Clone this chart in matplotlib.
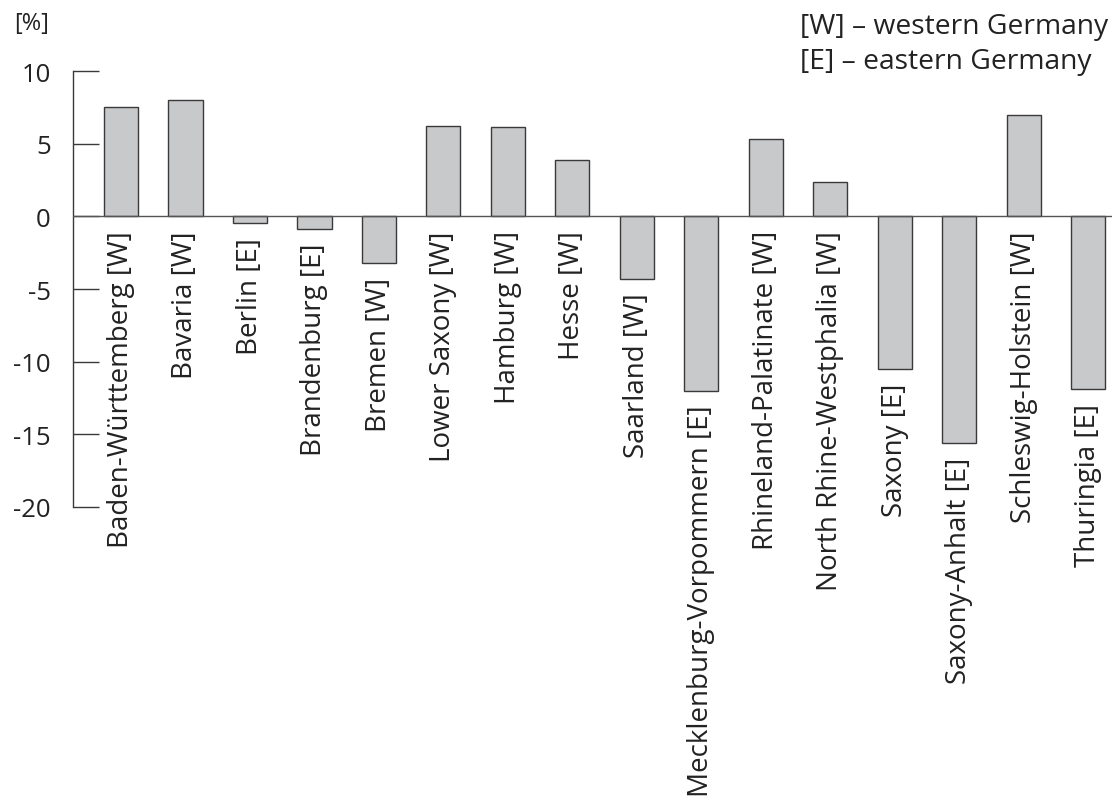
import matplotlib.pyplot as plt

# Change by federal state, in percent
states = ["Baden-Württemberg [W]", "Bavaria [W]", "Berlin [E]", "Brandenburg [E]",
          "Bremen [W]", "Lower Saxony [W]", "Hamburg [W]", "Hesse [W]",
          "Saarland [W]", "Mecklenburg-Vorpommern [E]", "Rhineland-Palatinate [W]",
          "North Rhine-Westphalia [W]", "Saxony [E]", "Saxony-Anhalt [E]",
          "Schleswig-Holstein [W]", "Thuringia [E]"]
change = [7.5, 8.0, -0.45, -0.85, -3.2, 6.25, 6.15, 3.85,
          -4.3, -12.0, 5.35, 2.35, -10.5, -15.6, 7.0, -11.9]
yticks = [10, 5, 0, -5, -10, -15, -20]
legend_lines = ["[W] – western Germany", "[E] – eastern Germany"]

plt.rcParams['font.family'] = ['Open Sans', 'DejaVu Sans']
LINE = '#3a3a3a'
TXT = '#222222'

fig = plt.figure(figsize=(11.16, 8.03), dpi=100)
ax = fig.add_axes([0.0654, 0.3674, 0.9310, 0.5429])

x = list(range(len(states)))
ax.bar(x, change, width=0.53, color='#c8c9cb', edgecolor=LINE, linewidth=1.0, zorder=2)
ax.axhline(0, color='#555555', linewidth=1.0, zorder=3)

ax.set_xlim(-0.745, 15.37)
ax.set_ylim(-20, 10)
ax.set_yticks(yticks)
ax.set_yticklabels([str(t) for t in yticks], fontsize=18.5, color=TXT)
ax.tick_params(axis='y', direction='in', length=19, width=1.0, color=LINE, pad=16)
ax.set_xticks([])
for s in ['top', 'right', 'bottom']:
    ax.spines[s].set_visible(False)
ax.spines['left'].set_color(LINE)
ax.spines['left'].set_linewidth(1.0)

# state names hang under the bar or the zero line
for xi, name, v in zip(x, states, change):
    ax.annotate(name, xy=(xi, min(v, 0)), xytext=(0, -10), textcoords='offset points',
                rotation=90, ha='center', va='top', fontsize=20, color=TXT,
                annotation_clip=False)

fig.text(0.013, 0.985, "[%]", fontsize=17, color=TXT, va='top', ha='left')
fig.text(0.717, 0.984, "\n".join(legend_lines), fontsize=20.3, color=TXT,
         va='top', ha='left', linespacing=1.35)

fig.savefig("out.png", dpi=100)
